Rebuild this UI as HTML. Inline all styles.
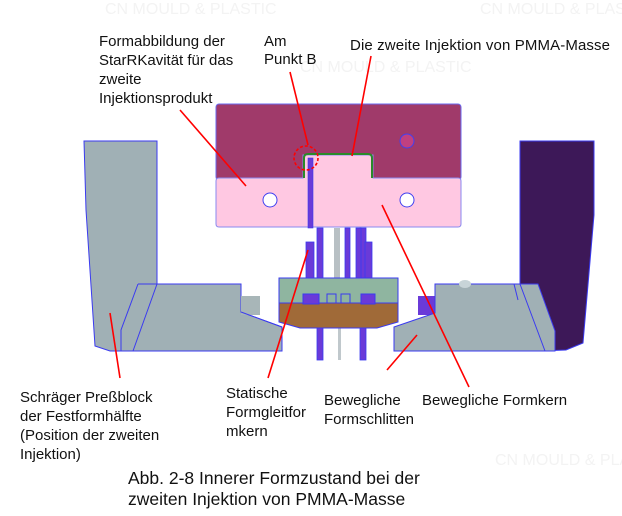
<!DOCTYPE html>
<html><head><meta charset="utf-8"><style>
html,body{margin:0;padding:0;background:#fff;}
svg{display:block;}
text{font-family:"Liberation Sans",sans-serif;font-size:15px;fill:#111;}
</style></head><body>
<svg width="622" height="516" viewBox="0 0 622 516" xmlns="http://www.w3.org/2000/svg">
<g>
<text x="105" y="14" style="fill:#f3f3f3;font-size:16px">CN MOULD &amp; PLASTIC</text>
<text x="480" y="14" style="fill:#f3f3f3;font-size:16px">CN MOULD &amp; PLASTIC</text>
<text x="300" y="72" style="fill:#f3f3f3;font-size:16px">CN MOULD &amp; PLASTIC</text>
<text x="495" y="465" style="fill:#f3f3f3;font-size:16px">CN MOULD &amp; PLASTIC</text>
</g>
<path d="M84,141 L157,141 L157,284 L241,284 L241,312 L282,327 L282,351 L110,351 L95,346 L86,210 Z" fill="#a0b0b5" stroke="#3a3af0" stroke-width="1"/>
<rect x="241" y="296" width="19" height="19" fill="#a8b6b8"/>
<path d="M241,312 L282,327" stroke="#3a3af0" fill="none"/>
<path d="M157,284 L133,351 M138,284 L121,330 L121,351 M138,284 L157,284" stroke="#3a3af0" fill="none"/>
<path d="M520,141 L594,141 L594,215 L583,343 L566,350 L540,351 L520,284 Z" fill="#3d1858" stroke="#3a3af0"/>
<rect x="418" y="296" width="17" height="19" fill="#6a3ad8"/>
<path d="M435,284 L538,284 L555,331 L555,351 L394,351 L394,327 L435,313 Z" fill="#a0b0b5" stroke="#3a3af0"/>
<path d="M520,284 L545,351 M514,284 L518,300" stroke="#3a3af0" fill="none"/>
<ellipse cx="465" cy="284" rx="6" ry="4" fill="#c8d4d8"/>
<g fill="#6a3ad8" stroke="#3a3af0" stroke-width="0.8">
<rect x="317" y="228" width="6" height="132"/>
<rect x="360" y="228" width="6" height="132"/>
<rect x="306" y="242" width="8" height="62"/>
<rect x="365" y="242" width="7" height="62"/>
<rect x="345" y="228" width="5" height="50"/>
<rect x="356" y="228" width="5" height="50"/>
</g>
<rect x="334" y="228" width="6" height="50" fill="#b8c0c4"/>
<rect x="338" y="300" width="3" height="60" fill="#c0c8cc"/>
<rect x="279" y="278" width="119" height="25" fill="#8fb5a0" stroke="#3a3af0"/>
<path d="M279,303 L398,303 L398,322 L377,328 L300,328 L279,322 Z" fill="#a06a38" stroke="#3a3af0"/>
<rect x="303" y="294" width="16" height="10" fill="#6a3ad8" stroke="#3a3af0"/>
<rect x="361" y="294" width="14" height="10" fill="#6a3ad8" stroke="#3a3af0"/>
<rect x="327" y="294" width="9" height="9" fill="none" stroke="#3a3af0"/>
<rect x="341" y="294" width="9" height="9" fill="none" stroke="#3a3af0"/>
<rect x="216" y="104" width="245" height="76" rx="3" fill="#a03a6a" stroke="#6a6af0"/>
<path d="M219,178 L303,178 L303,155 L373,155 L373,178 L458,178 Q461,178 461,181 L461,224 Q461,227 458,227 L219,227 Q216,227 216,224 L216,181 Q216,178 219,178 Z" fill="#ffc8e2" stroke="#8a8af0"/>
<path d="M304,178 L304,158 Q304,154 308,154 L368,154 Q372,154 372,158 L372,178" fill="none" stroke="#2a8a2a" stroke-width="2"/>
<rect x="308" y="158" width="5" height="70" fill="#6a3ad8" stroke="#3a3af0" stroke-width="0.6"/>
<circle cx="407" cy="141" r="7" fill="#c04080" stroke="#4040f0"/>
<circle cx="270" cy="200" r="7" fill="#fff" stroke="#4040f0"/>
<circle cx="407" cy="200" r="7" fill="#fff" stroke="#4040f0"/>
<g stroke="#f00" stroke-width="1.6" fill="none">
<line x1="180" y1="110" x2="246" y2="186"/>
<line x1="290" y1="72" x2="308" y2="145"/>
<circle cx="306" cy="158" r="12" stroke-dasharray="3,2"/>
<line x1="371" y1="56" x2="352" y2="156"/>
<line x1="110" y1="313" x2="120" y2="378"/>
<line x1="308" y1="250" x2="268" y2="378"/>
<line x1="417" y1="335" x2="387" y2="370"/>
<line x1="382" y1="205" x2="469" y2="387"/>
</g>
<text x="99" y="46">Formabbildung der</text>
<text x="99" y="65">StarRKavität für das</text>
<text x="99" y="84">zweite</text>
<text x="99" y="103">Injektionsprodukt</text>
<text x="264" y="46">Am</text>
<text x="264" y="64">Punkt B</text>
<text x="350" y="50" textLength="260">Die zweite Injektion von PMMA-Masse</text>
<text x="20" y="402">Schräger Preßblock</text>
<text x="20" y="421">der Festformhälfte</text>
<text x="20" y="440">(Position der zweiten</text>
<text x="20" y="459">Injektion)</text>
<text x="226" y="398">Statische</text>
<text x="226" y="417">Formgleitfor</text>
<text x="226" y="436">mkern</text>
<text x="324" y="405">Bewegliche</text>
<text x="324" y="424">Formschlitten</text>
<text x="422" y="405">Bewegliche Formkern</text>
<text x="128" y="484" style="font-size:17.5px">Abb. 2-8 Innerer Formzustand bei der</text>
<text x="128" y="505" style="font-size:17.5px">zweiten Injektion von PMMA-Masse</text>
</svg>
</body></html>
